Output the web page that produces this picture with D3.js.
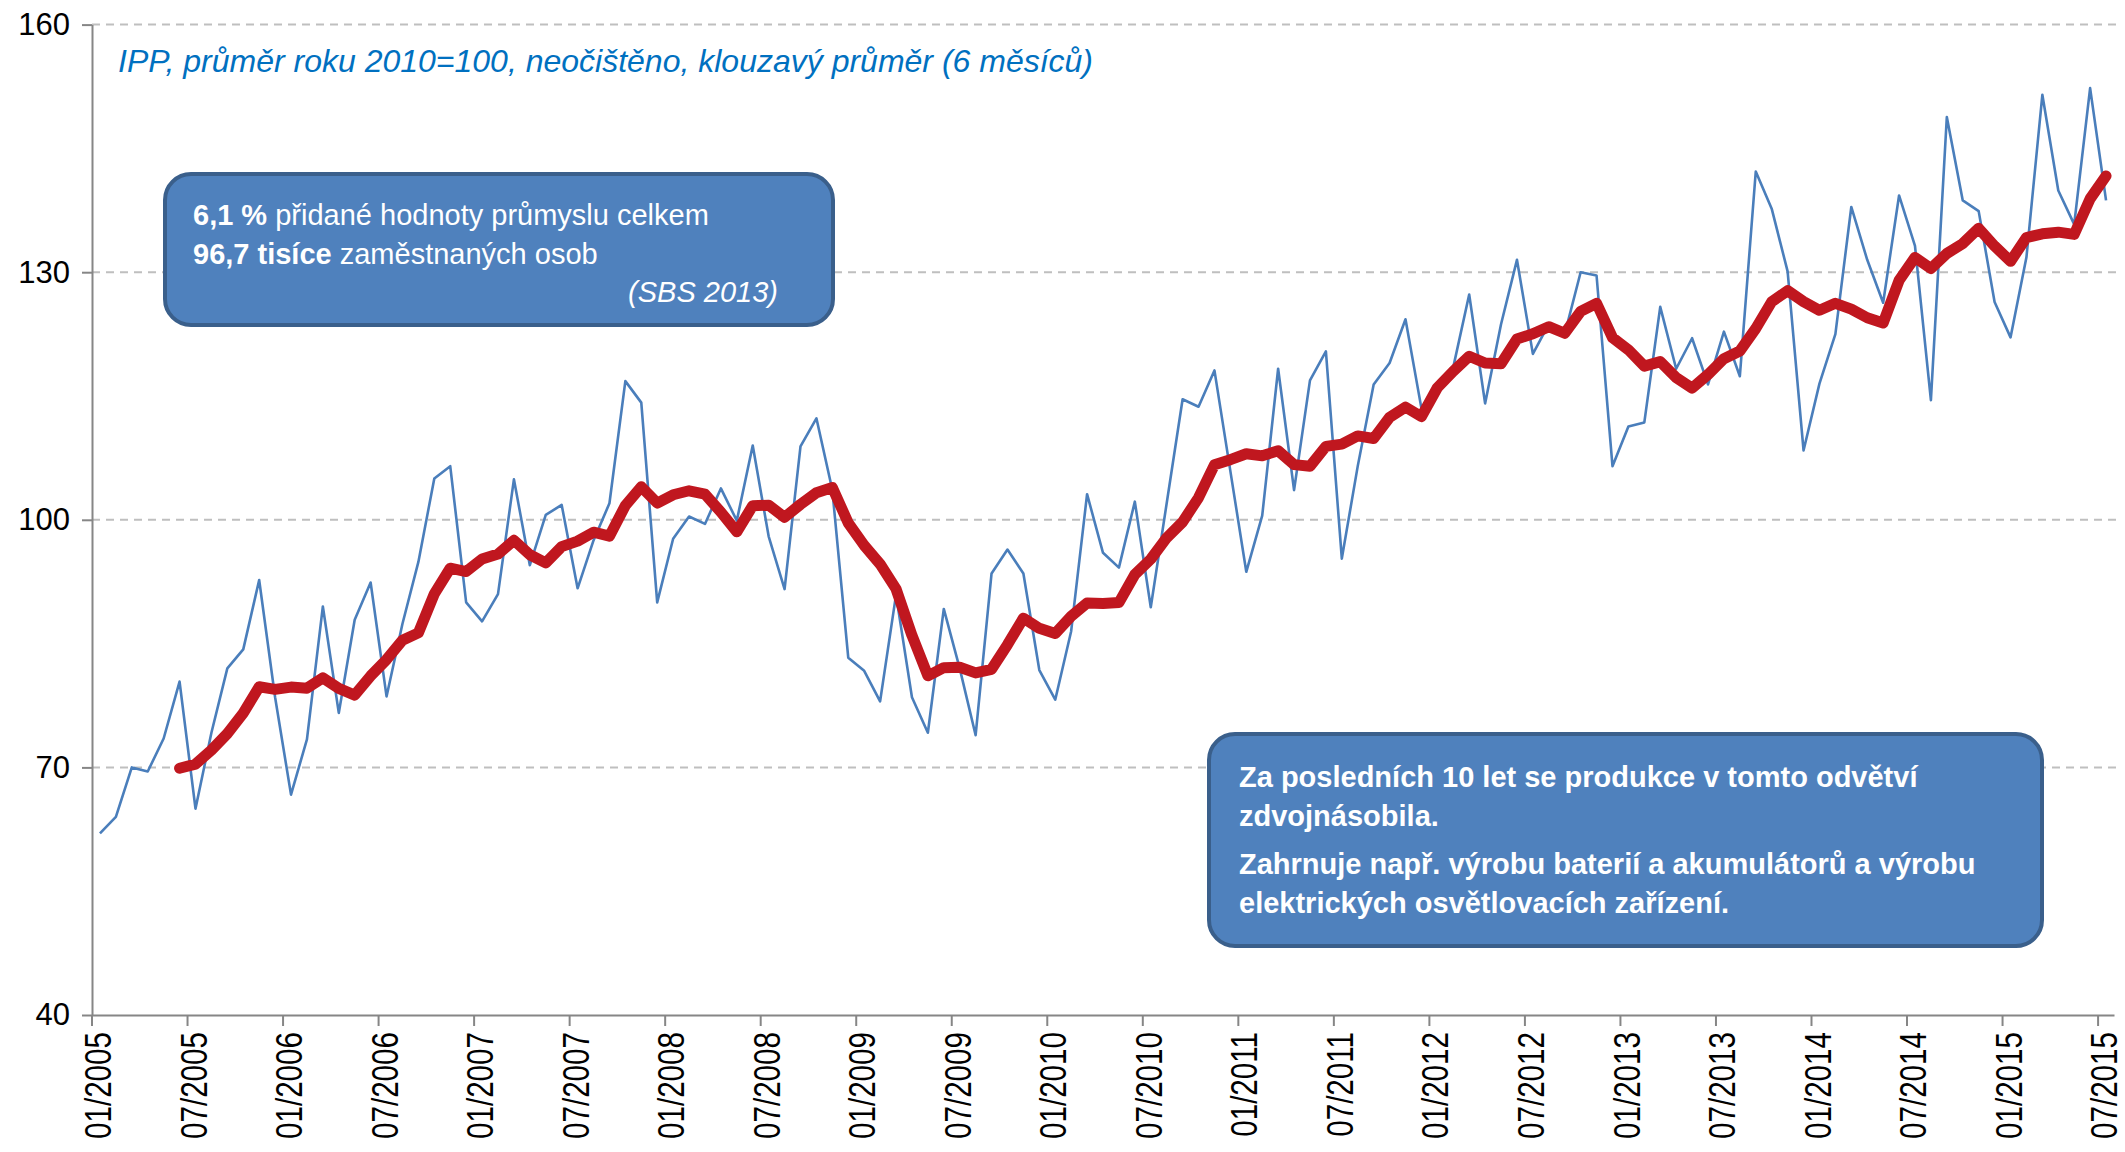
<!DOCTYPE html>
<html>
<head>
<meta charset="utf-8">
<script src="https://cdn.jsdelivr.net/npm/d3@7"></script>
<style>
  body { margin: 0; background: #fff; }
  svg { display: block; font-family: "Liberation Sans", Arial, sans-serif; }
</style>
</head>
<body>
<div id="chart"></div>
<script>
// monthly index IPP (2010 = 100), 01/2005 .. 07/2015
const ipp = [
  62.0, 64.0, 70.0, 69.5, 73.5, 80.4, 65.0, 74.2, 82.0, 84.3, 92.7, 78.5,
  66.7, 73.4, 89.5, 76.6, 87.9, 92.4, 78.6, 87.4, 94.9, 105.0, 106.5, 90.0,
  87.7, 91.0, 104.9, 94.5, 100.6, 101.8, 91.7, 97.5, 102.0, 116.8, 114.2, 90.0,
  97.7, 100.4, 99.5, 103.8, 99.9, 109.0, 98.0, 91.6, 108.9, 112.3, 103.6, 83.3,
  81.7, 78.0, 90.9, 78.5, 74.2, 89.2, 82.0, 73.9, 93.5, 96.4, 93.5, 81.8,
  78.2, 86.5, 103.1, 96.0, 94.2, 102.2, 89.4, 102.0, 114.6, 113.7, 118.1, 105.9,
  93.7, 100.5, 118.3, 103.6, 116.9, 120.4, 95.3, 106.5, 116.4, 119.0, 124.3, 113.5,
  116.3, 118.5, 127.3, 114.1, 123.7, 131.5, 120.1, 123.7, 122.5, 130.0, 129.6, 106.5,
  111.3, 111.8, 125.8, 118.3, 122.0, 116.4, 122.8, 117.4, 142.2, 137.7, 130.1, 108.4,
  116.5, 122.5, 137.9, 131.5, 126.3, 139.3, 133.2, 114.5, 148.8, 138.7, 137.4, 126.4,
  122.1, 131.8, 151.5, 139.9, 135.8, 152.3, 138.7
];

const tickLabels = [
  "01/2005", "07/2005", "01/2006", "07/2006", "01/2007", "07/2007", "01/2008", "07/2008",
  "01/2009", "07/2009", "01/2010", "07/2010", "01/2011", "07/2011", "01/2012", "07/2012",
  "01/2013", "07/2013", "01/2014", "07/2014", "01/2015", "07/2015"
];
const yTicks = [40, 70, 100, 130, 160];
const maWindow = 6;

const titleText = "IPP, průměr roku 2010=100, neočištěno, klouzavý průměr (6 měsíců)";
const box1Lines = [
  [["6,1 %", true], [" přidané hodnoty průmyslu celkem", false]],
  [["96,7 tisíce", true], [" zaměstnaných osob", false]]
];
const box1Source = "(SBS 2013)";
const box2Lines = [
  "Za posledních 10 let se produkce v tomto odvětví",
  "zdvojnásobila.",
  "Zahrnuje např. výrobu baterií a akumulátorů a výrobu",
  "elektrických osvětlovacích zařízení."
];

const width = 2125, height = 1152;
const fmt = d3.timeFormat("%m/%Y");
const months = d3.timeMonth.range(new Date(2005, 0, 1), new Date(2015, 7, 1)).map(fmt);
const series = months.map((m, i) => ({ m, v: ipp[i] }));

// 6-month trailing moving average (trendline)
const trend = series.slice(maWindow - 1).map((d, k) => ({
  m: d.m,
  v: d3.mean(ipp.slice(k, k + maWindow))
}));

const x = d3.scaleBand().domain(months).range([92, 2114]);
const y = d3.scaleLinear().domain([40, 160]).range([1015, 24.6]);
const cx = m => x(m) + x.bandwidth() / 2;

const svg = d3.select("#chart").append("svg")
  .attr("width", width)
  .attr("height", height);

// gridlines
svg.append("g")
  .selectAll("line")
  .data(yTicks.filter(t => t > 40))
  .enter()
  .append("line")
  .attr("x1", 92).attr("x2", 2120)
  .attr("y1", d => y(d)).attr("y2", d => y(d))
  .attr("stroke", "#bfbfbf")
  .attr("stroke-width", 2)
  .attr("stroke-dasharray", "8,6");

// y axis
const yAxis = svg.append("g")
  .attr("transform", "translate(92,0)")
  .call(d3.axisLeft(y).tickValues(yTicks).tickSize(10).tickPadding(12).tickSizeOuter(0));
yAxis.select(".domain").attr("stroke", "#868686").attr("stroke-width", 2);
yAxis.selectAll(".tick line").attr("stroke", "#868686").attr("stroke-width", 2);
yAxis.selectAll(".tick text")
  .attr("font-size", 31)
  .attr("font-family", "'Liberation Sans', Arial, sans-serif")
  .attr("fill", "#000");

// x axis, labels squeezed along their reading direction like the original
const labelSqueeze = 0.8;
const xAxis = svg.append("g")
  .attr("transform", "translate(0,1015)")
  .call(d3.axisBottom(x).tickValues(tickLabels).tickSize(0).tickSizeOuter(0));
xAxis.select(".domain").attr("stroke", "#868686").attr("stroke-width", 2);
xAxis.selectAll(".tick text")
  .attr("transform", `rotate(-90) scale(${labelSqueeze},1)`)
  .attr("text-anchor", "end")
  .attr("x", -17 / labelSqueeze)
  .attr("y", 0)
  .attr("dy", "0.3em")
  .attr("font-size", 37)
  .attr("font-family", "'Liberation Sans', Arial, sans-serif")
  .attr("fill", "#000");

xAxis.append("g")
  .selectAll("line")
  .data(tickLabels)
  .enter()
  .append("line")
  .attr("x1", d => x(d)).attr("x2", d => x(d))
  .attr("y1", 0).attr("y2", 11)
  .attr("stroke", "#868686")
  .attr("stroke-width", 2);

// lines
const line = d3.line().x(d => cx(d.m)).y(d => y(d.v));

svg.append("path")
  .datum(series)
  .attr("fill", "none")
  .attr("stroke", "#4a7ebb")
  .attr("stroke-width", 2.6)
  .attr("stroke-linejoin", "round")
  .attr("d", line);

svg.append("path")
  .datum(trend)
  .attr("fill", "none")
  .attr("stroke", "#c0171f")
  .attr("stroke-width", 11)
  .attr("stroke-linejoin", "round")
  .attr("stroke-linecap", "round")
  .attr("d", line);

// title
svg.append("text")
  .attr("x", 118)
  .attr("y", 72)
  .attr("font-size", 32)
  .attr("font-style", "italic")
  .attr("fill", "#0070c0")
  .text(titleText);

// info boxes
function box(x0, y0, w, h) {
  svg.append("rect")
    .attr("x", x0).attr("y", y0)
    .attr("width", w).attr("height", h)
    .attr("rx", 26).attr("ry", 26)
    .attr("fill", "#4f81bd")
    .attr("stroke", "#3a5f8b")
    .attr("stroke-width", 4);
}

box(165, 174, 668, 151);
box1Lines.forEach((parts, i) => {
  const t = svg.append("text")
    .attr("x", 193)
    .attr("y", 225 + i * 39)
    .attr("font-size", 29)
    .attr("fill", "#fff");
  parts.forEach(([s, bold]) => {
    t.append("tspan").attr("font-weight", bold ? "bold" : "normal").text(s);
  });
});
svg.append("text")
  .attr("x", 778)
  .attr("y", 302)
  .attr("text-anchor", "end")
  .attr("font-size", 29)
  .attr("font-style", "italic")
  .attr("fill", "#fff")
  .text(box1Source);

box(1209, 734, 833, 212);
const box2Y = [787, 826, 874, 913];
box2Lines.forEach((s, i) => {
  svg.append("text")
    .attr("x", 1239)
    .attr("y", box2Y[i])
    .attr("font-size", 29)
    .attr("font-weight", "bold")
    .attr("fill", "#fff")
    .text(s);
});
</script>
</body>
</html>
